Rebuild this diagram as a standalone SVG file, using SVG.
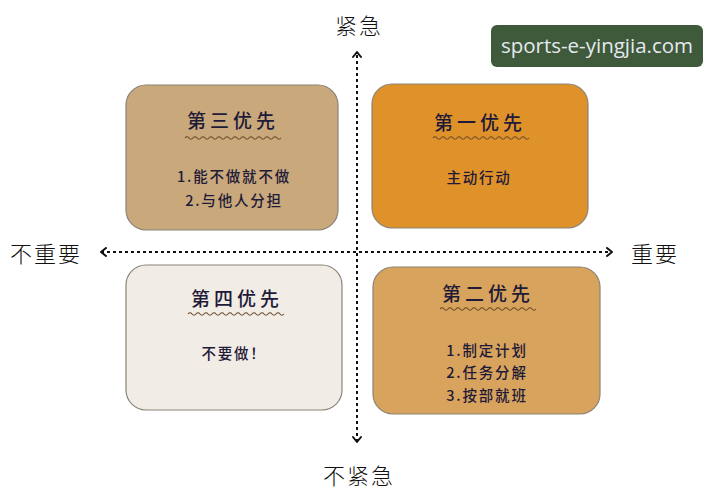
<svg xmlns="http://www.w3.org/2000/svg" width="727" height="500" viewBox="0 0 727 500">
<defs>
<marker id="arr" viewBox="0 0 10 10" refX="7" refY="5" markerWidth="10" markerHeight="10" markerUnits="userSpaceOnUse" orient="auto-start-reverse">
<path d="M2 1 L7 5 L2 9" fill="none" stroke="#111" stroke-width="2" stroke-linecap="round" stroke-linejoin="round"/>
</marker>
<path id="wave" d="M0 0 q2 -2.4 4 0 t4 0 t4 0 t4 0 t4 0 t4 0 t4 0 t4 0 t4 0 t4 0 t4 0 t4 0 t4 0 t4 0 t4 0 t4 0 t4 0 t4 0 t4 0 t4 0 t4 0 t4 0 t4 0 t4 0" fill="none" stroke="#6b4a2a" stroke-width="1.1"/>
</defs>
<style>
.box{stroke:#8a8478;stroke-width:1.2}
.t{font-family:"Noto Sans CJK SC","Noto Sans",sans-serif;fill:#1e1a38;text-anchor:middle}
.title{font-size:19px;letter-spacing:4px;font-weight:500}
.item{font-size:14.5px;letter-spacing:1.8px;font-weight:500}
.axis{font-family:"Noto Sans CJK SC",sans-serif;font-size:22px;fill:#111;font-weight:300;letter-spacing:2px}
.ax{stroke:#111;stroke-width:2;stroke-dasharray:3 3;fill:none}
</style>
<rect width="727" height="500" fill="#ffffff"/>
<g id="connectors">
<line class="ax" x1="357" y1="442" x2="357" y2="52" marker-end="url(#arr)" marker-start="url(#arr)"/>
<line class="ax" x1="101" y1="252" x2="612" y2="252" marker-end="url(#arr)" marker-start="url(#arr)"/>
</g>
<g id="q3">
<rect class="box" x="126" y="85" width="212" height="145" rx="20" fill="#c9a87b"/>
<text class="t title" x="233" y="128">第三优先</text>
<use href="#wave" x="185" y="138"/>
<text class="t item" x="234" y="182">1.能不做就不做</text>
<text class="t item" x="234" y="206">2.与他人分担</text>
</g>
<g id="q1">
<rect class="box" x="372" y="84" width="216" height="144" rx="20" fill="#e0922a" stroke="#c98a3a"/>
<text class="t title" x="480" y="130">第一优先</text>
<use href="#wave" x="433" y="138"/>
<text class="t item" x="479" y="183">主动行动</text>
</g>
<g id="q4">
<rect class="box" x="126" y="265" width="216" height="145" rx="20" fill="#f2ece6"/>
<text class="t title" x="237" y="306">第四优先</text>
<use href="#wave" x="188" y="314"/>
<text class="t item" x="234" y="359">不要做！</text>
</g>
<g id="q2">
<rect class="box" x="373" y="267" width="227" height="147" rx="20" fill="#d8a35c"/>
<text class="t title" x="488" y="301">第二优先</text>
<use href="#wave" x="440" y="309"/>
<text class="t item" x="487" y="356">1.制定计划</text>
<text class="t item" x="487" y="378">2.任务分解</text>
<text class="t item" x="487" y="401">3.按部就班</text>
</g>
<g id="labels">
<text class="axis" x="359" y="34" text-anchor="middle">紧急</text>
<text class="axis" x="359" y="484" text-anchor="middle">不紧急</text>
<text class="axis" x="46" y="262" text-anchor="middle">不重要</text>
<text class="axis" x="655" y="262" text-anchor="middle">重要</text>
</g>
<g id="watermark">
<rect x="491" y="25" width="212" height="42" rx="6" fill="#3e5a3b"/>
<text x="597" y="53" text-anchor="middle" font-family="'Open Sans',sans-serif" font-size="20.5" fill="#e6e8f0">sports-e-yingjia.com</text>
</g>
</svg>
